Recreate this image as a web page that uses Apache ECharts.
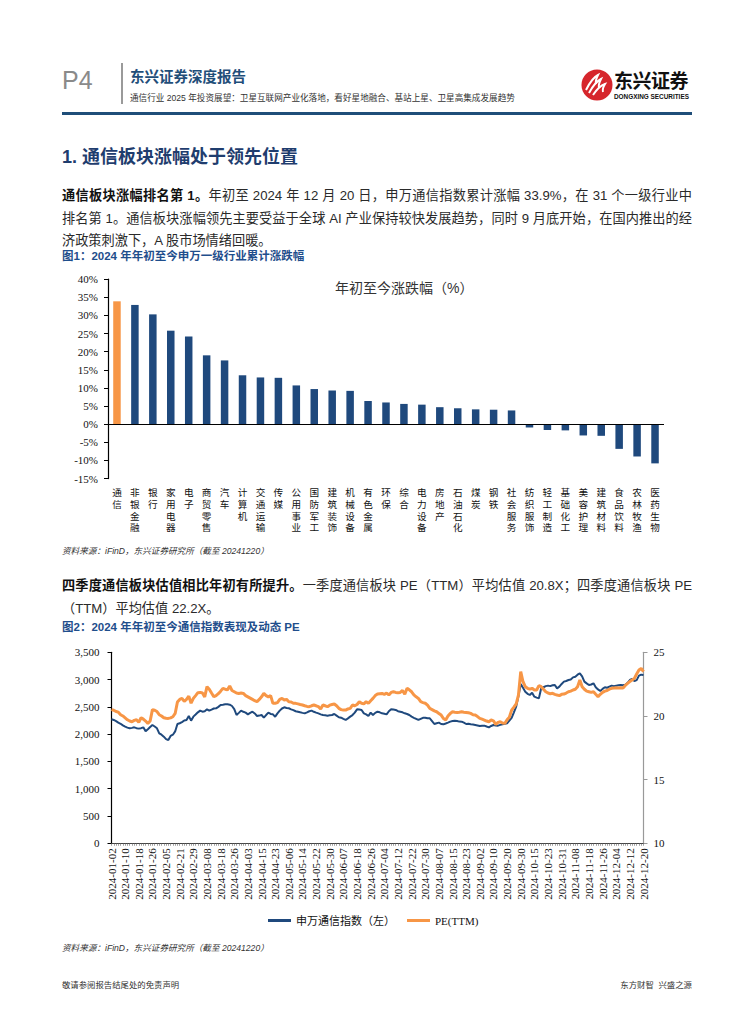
<!DOCTYPE html>
<html><head><meta charset="utf-8">
<script src="https://cdn.jsdelivr.net/npm/echarts@6/dist/echarts.min.js"></script>
<style>
html,body{margin:0;padding:0;background:#fff;}
#page{position:relative;width:755px;height:1024px;overflow:hidden;font-family:"Liberation Sans","Noto Sans CJK SC",sans-serif;color:#1a1a1a;}
#chart{position:absolute;left:0;top:0;width:755px;height:1024px;}
.t{position:absolute;white-space:nowrap;}
.ln{position:absolute;left:62px;width:630px;font-size:13.2px;height:22px;line-height:22px;white-space:nowrap;color:#2a2a2a;}
.j{text-align:justify;text-align-last:justify;}
.b{font-weight:bold;color:#111;}
.fig{position:absolute;left:62px;font-size:11.5px;font-weight:bold;color:#1F4E8C;height:16px;line-height:16px;white-space:nowrap;}
.src{position:absolute;left:62px;font-size:8.6px;font-style:italic;color:#333;height:12px;line-height:12px;white-space:nowrap;}
</style></head>
<body><div id="page">
<div id="chart"></div>

<div class="t" style="left:62px;top:66px;font-size:25px;line-height:28px;color:#8a8a8a;font-family:'Liberation Sans';">P4</div>
<div style="position:absolute;left:121px;top:63px;width:1.5px;height:41px;background:#9a9a9a;"></div>
<div class="t" style="left:130px;top:68px;font-size:14.5px;line-height:18px;font-weight:bold;color:#1F4E79;">东兴证券深度报告</div>
<div class="t" style="left:130px;top:92px;font-size:8.6px;line-height:12px;color:#333;">通信行业 2025 年投资展望：卫星互联网产业化落地，看好星地融合、基站上星、卫星高集成发展趋势</div>
<svg style="position:absolute;left:581px;top:69px;" width="32" height="32" viewBox="0 0 32 32">
 <circle cx="16" cy="16" r="15.5" fill="#D6262C"/>
 <path d="M5 21 Q11 9 17 6 Q14 12 15 15" stroke="#fff" stroke-width="2" fill="none"/>
 <path d="M8 24 Q14 13 20 10 Q17 16 18 19" stroke="#fff" stroke-width="2" fill="none"/>
 <path d="M12 26 Q18 17 24 15 Q21 20 22 23" stroke="#fff" stroke-width="2" fill="none"/>
</svg>
<div class="t" style="left:614px;top:71px;font-size:19px;line-height:22px;font-weight:bold;color:#111;letter-spacing:-0.5px;">东兴证券</div>
<div class="t" style="left:614px;top:93px;font-size:6.4px;line-height:8px;font-weight:bold;color:#111;font-family:'Liberation Sans';">DONGXING SECURITIES</div>
<div style="position:absolute;left:62px;top:112px;width:630px;height:3px;background:#1F4E79;"></div>

<div class="t" style="left:62px;top:146px;font-size:18px;line-height:22px;font-weight:bold;color:#1F3D6E;">1. 通信板块涨幅处于领先位置</div>

<div class="ln j" style="top:185px;"><span class="b">通信板块涨幅排名第 1。</span>年初至 2024 年 12 月 20 日，申万通信指数累计涨幅 33.9%，在 31 个一级行业中</div>
<div class="ln j" style="top:207.5px;">排名第 1。通信板块涨幅领先主要受益于全球 AI 产业保持较快发展趋势，同时 9 月底开始，在国内推出的经</div>
<div class="ln" style="top:230px;">济政策刺激下，A 股市场情绪回暖。</div>
<div class="fig" style="top:248px;">图1：2024 年年初至今申万一级行业累计涨跌幅</div>

<div class="t" style="left:335px;top:279px;font-size:14px;line-height:18px;color:#333;">年初至今涨跌幅（%）</div>

<div class="src" style="top:545px;">资料来源：iFinD，东兴证券研究所（截至 20241220）</div>

<div class="ln j" style="top:575px;"><span class="b">四季度通信板块估值相比年初有所提升。</span>一季度通信板块 PE（TTM）平均估值 20.8X；四季度通信板块 PE</div>
<div class="ln" style="top:598px;">（TTM）平均估值 22.2X。</div>
<div class="fig" style="top:619px;">图2：2024 年年初至今通信指数表现及动态 PE</div>

<div class="src" style="top:942px;">资料来源：iFinD，东兴证券研究所（截至 20241220）</div>

<div class="t" style="left:62px;top:979px;font-size:8.4px;line-height:12px;color:#333;">敬请参阅报告结尾处的免责声明</div>
<div class="t" style="right:63px;top:979px;font-size:8.4px;line-height:12px;color:#333;">东方财智&nbsp;&nbsp;兴盛之源</div>
</div>

<script>
// ---- Figure 1 data ----
const industries = ['通信','非银金融','银行','家用电器','电子','商贸零售','汽车','计算机','交通运输','传媒','公用事业','国防军工','建筑装饰','机械设备','有色金属','环保','综合','电力设备','房地产','石油石化','煤炭','钢铁','社会服务','纺织服饰','轻工制造','基础化工','美容护理','建筑材料','食品饮料','农林牧渔','医药生物'];
const ytdChange = [33.9,32.9,30.3,25.8,24.2,19.0,17.6,13.5,12.9,12.8,10.7,9.7,9.3,9.2,6.4,6.0,5.6,5.4,4.7,4.4,4.1,4.0,3.8,-0.9,-1.6,-1.7,-3.1,-3.2,-6.8,-8.9,-10.8];
const highlightIndustry = '通信';

// ---- Figure 2 data ----
const tradingDays = [
 ['01',[2,3,4,5,8,9,10,11,12,15,16,17,18,19,22,23,24,25,26,29,30,31]],
 ['02',[1,2,5,6,7,8,19,20,21,22,23,26,27,28,29]],
 ['03',[1,4,5,6,7,8,11,12,13,14,15,18,19,20,21,22,25,26,27,28,29]],
 ['04',[1,2,3,8,9,10,11,12,15,16,17,18,19,22,23,24,25,26,29,30]],
 ['05',[6,7,8,9,10,13,14,15,16,17,20,21,22,23,24,27,28,29,30,31]],
 ['06',[3,4,5,6,7,11,12,13,14,17,18,19,20,21,24,25,26,27,28]],
 ['07',[1,2,3,4,5,8,9,10,11,12,15,16,17,18,19,22,23,24,25,26,29,30,31]],
 ['08',[1,2,5,6,7,8,9,12,13,14,15,16,19,20,21,22,23,26,27,28,29,30]],
 ['09',[2,3,4,5,6,9,10,11,12,13,18,19,20,23,24,25,26,27,30]],
 ['10',[8,9,10,11,14,15,16,17,18,21,22,23,24,25,28,29,30,31]],
 ['11',[1,4,5,6,7,8,11,12,13,14,15,18,19,20,21,22,25,26,27,28,29]],
 ['12',[2,3,4,5,6,9,10,11,12,13,16,17,18,19,20]]
];
const swTelecomIndex = [2272,2260,2240,2211,2190,2160,2137,2120,2107,2115,
 2125,2110,2101,2110,2125,2052,2090,2130,2168,2140,
 2107,2015,1990,1954,1910,1893,1967,1990,2050,2186,
 2200,2220,2250,2260,2333,2247,2321,2360,2400,2431,
 2412,2420,2455,2431,2450,2470,2473,2500,2534,2540,
 2547,2547,2540,2516,2460,2351,2390,2431,2410,2394,
 2363,2390,2412,2380,2333,2340,2351,2302,2350,2394,
 2370,2363,2320,2380,2431,2470,2492,2480,2475,2455,
 2440,2420,2412,2400,2390,2382,2400,2420,2431,2410,
 2394,2380,2363,2350,2345,2339,2345,2351,2370,2340,
 2310,2302,2280,2260,2290,2321,2350,2394,2455,2450,
 2443,2380,2363,2333,2394,2351,2390,2412,2400,2382,
 2375,2363,2420,2455,2450,2443,2420,2412,2400,2382,
 2370,2351,2321,2300,2280,2260,2280,2300,2302,2290,
 2290,2240,2186,2200,2211,2186,2180,2195,2211,2230,
 2240,2247,2240,2230,2229,2210,2186,2190,2180,2175,
 2168,2160,2150,2155,2156,2140,2125,2150,2168,2160,
 2156,2170,2180,2190,2199,2250,2300,2400,2504,2700,
 2920,2850,2779,2740,2718,2760,2687,2670,2657,2840,
 2860,2880,2889,2880,2895,2901,2840,2870,2920,2962,
 2975,2992,3000,3040,3053,3090,3115,3060,2962,2930,
 2900,2910,2931,2860,2820,2791,2830,2860,2850,2870,
 2889,2880,2889,2895,2901,2895,2907,2940,2992,3010,
 2974,2990,3072,3090,3084];
const peTTM = [20.5,20.45,20.35,20.3,20.1,20.0,19.85,19.7,19.6,19.55,
 19.65,19.7,19.5,19.86,19.75,19.6,19.42,19.6,20.5,20.45,
 20.35,20.1,20.0,19.86,19.82,19.81,19.85,19.94,20.2,21.1,
 21.3,21.38,21.15,21.3,21.56,21.0,21.38,21.6,21.83,21.85,
 21.8,21.5,22.3,22.1,21.8,21.51,21.6,21.75,21.95,22.17,
 22.1,22.05,22.35,22.0,21.9,21.8,21.77,21.8,21.77,21.6,
 21.5,21.4,21.3,21.2,21.12,21.3,21.5,21.77,21.6,21.5,
 21.6,20.99,21.0,21.05,21.3,21.38,21.25,21.3,21.12,21.1,
 21.0,20.99,20.95,20.9,20.86,20.8,20.75,20.73,20.8,20.86,
 20.8,20.73,20.55,20.86,20.8,20.73,20.85,20.9,20.94,20.8,
 20.6,20.5,20.46,20.46,20.55,20.6,20.86,20.8,20.9,21.12,
 21.0,20.95,21.12,20.99,21.2,21.38,21.6,21.72,21.75,21.77,
 21.7,21.8,21.65,21.85,21.9,21.85,21.82,21.85,22.0,21.7,
 22.17,22.05,21.9,21.65,21.5,21.38,21.12,21.05,21.0,20.85,
 20.59,20.5,20.4,20.33,20.2,20.07,19.8,19.68,19.99,20.2,
 20.33,20.3,20.28,20.3,20.33,20.3,20.28,20.25,20.2,20.1,
 20.07,19.95,19.81,19.75,19.68,19.6,19.55,19.68,19.62,19.34,
 19.5,19.55,19.45,19.42,19.7,19.9,20.46,20.7,20.95,21.64,
 23.48,22.69,22.3,22.17,22.1,22.17,22.04,22.04,22.38,22.3,
 22.1,21.9,21.8,21.75,21.78,21.7,21.64,21.6,21.7,21.72,
 21.8,21.9,21.95,22.04,22.1,22.3,22.82,22.3,22.1,21.95,
 21.9,21.85,21.9,21.7,21.51,21.7,21.85,21.95,22.0,22.1,
 22.17,22.2,22.22,22.2,22.22,22.2,22.4,22.56,22.7,22.82,
 22.95,23.3,23.61,23.74,23.48];
const seriesNames = ['申万通信指数（左）','PE(TTM)'];

const dates = [];
tradingDays.forEach(([m, days]) => days.forEach(d => dates.push('2024-' + m + '-' + String(d).padStart(2,'0'))));

const NAVY = '#1F497D', ORANGE = '#F79646';
const serif = 'Liberation Serif';
const cjk = 'Noto Sans CJK SC';

const chart = echarts.init(document.getElementById('chart'), null, {renderer:'svg'});
chart.setOption({
  animation:false,
  grid:[
    {left:108, right:91, top:279.2, bottom:545.4},
    {left:111.5, right:111.5, top:652.3, bottom:180.7}
  ],
  xAxis:[
    {gridIndex:0, type:'category', data:industries,
     axisLine:{show:false}, axisTick:{show:false},
     axisLabel:{interval:0, margin:8, fontFamily:cjk, fontSize:9.6, lineHeight:11.6, color:'#111',
       width:40, overflow:'none', hideOverlap:false,
       formatter:v => v.split('').join('\n')}},
    {gridIndex:1, type:'category', data:dates, boundaryGap:false,
     axisLine:{lineStyle:{color:'#444', width:1}},
     axisTick:{interval:0, length:2.5, lineStyle:{color:'#666', width:0.6}},
     axisLabel:{interval:5, rotate:90, margin:5, fontFamily:serif, fontSize:11, color:'#111'}}
  ],
  yAxis:[
    {gridIndex:0, type:'value', min:-15, max:40, interval:5, splitLine:{show:false},
     axisLine:{show:true, lineStyle:{color:'#000', width:1.2}},
     axisTick:{show:true, length:4, lineStyle:{color:'#000'}},
     axisLabel:{formatter:'{value}%', fontFamily:serif, fontSize:11, color:'#111', margin:10}},
    {gridIndex:1, type:'value', min:0, max:3500, interval:500, position:'left', splitLine:{show:false},
     axisLine:{show:true, lineStyle:{color:'#000', width:1.2}},
     axisTick:{show:true, length:4, lineStyle:{color:'#000'}},
     axisLabel:{formatter:v => v.toLocaleString('en-US'), fontFamily:serif, fontSize:11, color:'#111', margin:12}},
    {gridIndex:1, type:'value', min:10, max:25, interval:5, position:'right', splitLine:{show:false},
     axisLine:{show:true, lineStyle:{color:'#999', width:1.2}},
     axisTick:{show:true, length:4, lineStyle:{color:'#999'}},
     axisLabel:{fontFamily:serif, fontSize:11, color:'#111', margin:10}}
  ],
  legend:{left:263, top:910, itemWidth:23, itemHeight:3, itemGap:12, icon:'rect',
    textStyle:{fontFamily:serif + ', ' + cjk, fontSize:11, color:'#111'}, data:seriesNames},
  series:[
    {type:'bar', xAxisIndex:0, yAxisIndex:0, barWidth:7.5,
     data:ytdChange.map((v,i) => ({value:v, itemStyle:{color: industries[i] === highlightIndustry ? ORANGE : NAVY}})),
     markLine:{silent:true, symbol:['none','none'], label:{show:false},
       lineStyle:{color:'#000', width:1.2, type:'solid'}, data:[{yAxis:0}]}},
    {type:'line', name:seriesNames[0], xAxisIndex:1, yAxisIndex:1, data:swTelecomIndex,
     showSymbol:false, symbol:'none', lineStyle:{color:NAVY, width:2}, itemStyle:{color:NAVY}},
    {type:'line', name:seriesNames[1], xAxisIndex:1, yAxisIndex:2, data:peTTM,
     showSymbol:false, symbol:'none', lineStyle:{color:ORANGE, width:3}, itemStyle:{color:ORANGE}}
  ]
});
</script>
</body></html>
